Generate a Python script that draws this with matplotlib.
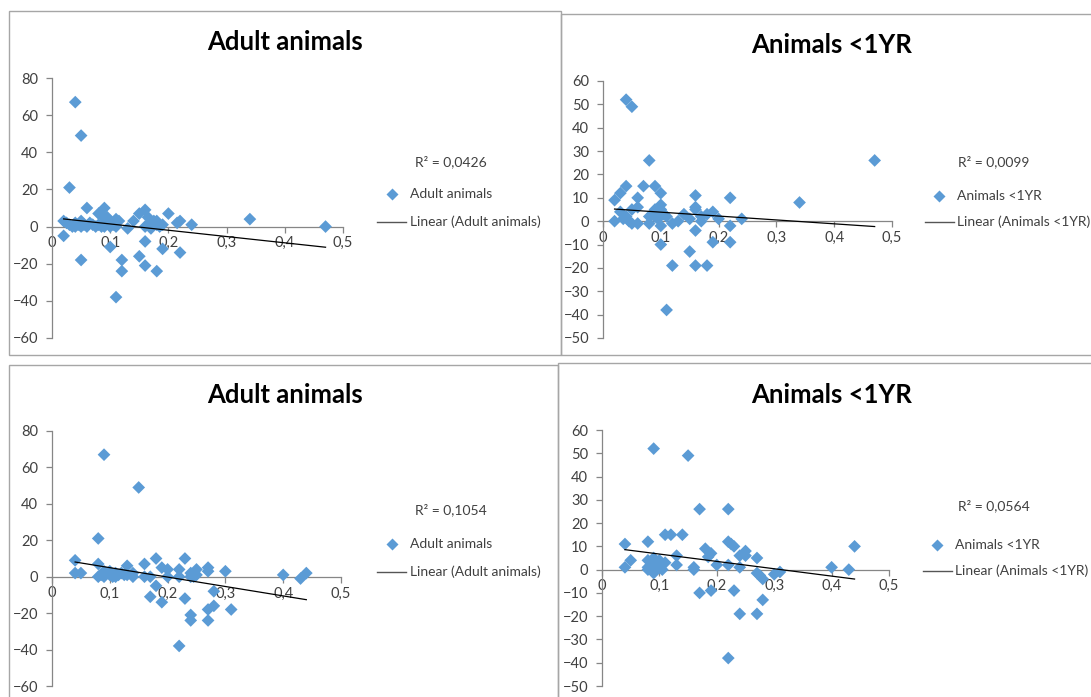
import numpy as np
import matplotlib
matplotlib.use("Agg")
import matplotlib.pyplot as plt
from matplotlib.patches import Rectangle
from matplotlib.lines import Line2D

plt.rcParams['font.family'] = ['Lato', 'DejaVu Sans']

# ---------------- data ----------------
adult_top_x = [0.04, 0.05, 0.03, 0.02, 0.02, 0.05, 0.06, 0.09, 0.08, 0.085, 0.095, 0.10, 0.12, 0.12,
               0.11, 0.14, 0.13, 0.15, 0.16, 0.165, 0.16, 0.15, 0.16, 0.18, 0.19, 0.20, 0.22, 0.22,
               0.24, 0.34, 0.47,
               0.025, 0.03, 0.035, 0.04, 0.04, 0.045, 0.05, 0.05, 0.055, 0.06, 0.065, 0.07, 0.075,
               0.08, 0.085, 0.09, 0.09, 0.10, 0.10, 0.105, 0.11, 0.11, 0.115, 0.17, 0.175, 0.18,
               0.185, 0.19, 0.16, 0.17, 0.18, 0.215]
adult_top_y = [67, 49, 21, 3, -5, -18, 10, 10, 7, 6, 5, -11, -18, -24,
               -38, 3, -1, 7, 9, 5, -8, -16, -21, -24, -12, 7, 3, -14,
               1, 4, 0,
               2, 1, 0, 0, 2, 1, 0, 3, 1, 0, 2, 1, 0,
               1, 0, 2, 0, 3, 0, 1, 4, 0, 3, 2, 3, 1,
               0, 1, 0, -1, 3, 2]

young_top_x = [0.04, 0.05, 0.08, 0.47, 0.34, 0.02, 0.03, 0.04, 0.07, 0.09, 0.10, 0.06, 0.16, 0.22,
               0.02, 0.03, 0.06, 0.05, 0.04, 0.05, 0.06, 0.09, 0.10, 0.10, 0.08, 0.08, 0.09, 0.10,
               0.10, 0.11, 0.12, 0.12, 0.11, 0.13, 0.14, 0.15, 0.15, 0.16, 0.16, 0.16, 0.16, 0.17,
               0.17, 0.18, 0.18, 0.19, 0.19, 0.20, 0.22, 0.22, 0.24, 0.035, 0.045, 0.085, 0.095,
               0.105]
young_top_y = [52, 49, 26, 26, 8, 9, 12, 15, 15, 15, 12, 10, 11, 10,
               0, 4, 6, 5, 2, -1, -1, 5, 5, 7, 2, -1, 2, -2,
               -10, -38, -19, -1, 2, 0, 3, 1, -13, 6, 5, -4, -19, 0,
               2, -19, 3, 4, -9, 1, -2, -9, 1, 1, 0, 3, 1,
               3]

adult_bot_x = [0.09, 0.15, 0.08, 0.04, 0.04, 0.05, 0.08, 0.08, 0.13, 0.16, 0.18, 0.23, 0.16, 0.17,
               0.17, 0.18, 0.19, 0.19, 0.20, 0.20, 0.22, 0.22, 0.22, 0.23, 0.24, 0.24, 0.24, 0.24,
               0.25, 0.25, 0.245, 0.27, 0.27, 0.27, 0.27, 0.28, 0.28, 0.30, 0.31, 0.40, 0.43, 0.44,
               0.09, 0.095, 0.10, 0.10, 0.105, 0.11, 0.11, 0.115, 0.12, 0.125, 0.13, 0.14, 0.14,
               0.085, 0.09]
adult_bot_y = [67, 49, 21, 9, 2, 2, 7, 0, 6, 7, 10, 10, 0, 0,
               -11, -5, -14, 5, 4, 0, 4, 0, -38, -12, -21, -24, 2, 0,
               4, 1, 0, 5, 3, -18, -24, -16, -8, 3, -18, 1, -1, 2,
               0, 2, 1, 3, 0, 2, 0, 1, 2, 1, 1, 0, 2,
               1, 3]

young_bot_x = [0.09, 0.15, 0.17, 0.22, 0.11, 0.12, 0.14, 0.04, 0.08, 0.22, 0.225, 0.23, 0.44, 0.05,
               0.04, 0.08, 0.08, 0.09, 0.09, 0.10, 0.10, 0.11, 0.095, 0.08, 0.13, 0.13, 0.16, 0.16,
               0.17, 0.18, 0.185, 0.19, 0.19, 0.20, 0.22, 0.22, 0.23, 0.24, 0.24, 0.24, 0.25, 0.25,
               0.27, 0.27, 0.27, 0.275, 0.28, 0.28, 0.30, 0.31, 0.40, 0.43, 0.085, 0.105, 0.09]
young_bot_y = [52, 49, 26, 26, 15, 15, 15, 11, 12, 12, 11, 10, 10, 4,
               1, 1, 4, 5, -1.5, 1, 4, 3, 2, 0, 6, 2, 0, 1,
               -10, 9, 5.5, 7, -9, 2, 2, -38, -9, 6, -19, 1, 8, 6,
               5, -19, -1.5, -2.5, -4, -13, -2, -1, 1, 0, 2, 0, 0]

titles = ["Adult animals", "Animals <1YR", "Adult animals", "Animals <1YR"]
r2_labels = ["R² = 0,0426", "R² = 0,0099", "R² = 0,1054", "R² = 0,0564"]
x_ticks = [0, 0.1, 0.2, 0.3, 0.4, 0.5]
y_ticks_adult = [-60, -40, -20, 0, 20, 40, 60, 80]
y_ticks_young = [-50, -40, -30, -20, -10, 0, 10, 20, 30, 40, 50, 60]

# ---------------- layout ----------------
W, H = 1091, 697
fig = plt.figure(figsize=(W / 100, H / 100), dpi=100)
fig.patch.set_facecolor("white")

def fx(px):
    return px / W

def fy(py):
    return 1 - py / H

def add_frame(x0, y0, x1, y1):
    fig.patches.append(Rectangle((fx(x0), fy(y1)), fx(x1) - fx(x0), fy(y0) - fy(y1),
                                 transform=fig.transFigure, fill=False,
                                 edgecolor="#a6a6a6", linewidth=1.0, zorder=0))

add_frame(9, 11, 561, 355)
add_frame(561, 14, 1095, 355)
add_frame(9, 365, 558, 702)
add_frame(558, 363, 1095, 702)

BLUE = "#5B9BD5"
GREY = "#868686"
TXT = "#404040"

panels = [
    (adult_top_x, adult_top_y, (52, 78, 343, 338), (-60, 80), y_ticks_adult, (285, 42),
     (162, 194, 222), (415, 392, 377, 410), "Adult animals"),
    (young_top_x, young_top_y, (603, 81, 892, 338), (-50, 60), y_ticks_young, (832, 45),
     (162, 196, 222), (958, 939, 925, 957), "Animals <1YR"),
    (adult_bot_x, adult_bot_y, (52, 431, 341, 686), (-60, 80), y_ticks_adult, (285, 395),
     (510, 544, 572), (415, 392, 377, 410), "Adult animals"),
    (young_bot_x, young_bot_y, (602, 430, 889, 686), (-50, 60), y_ticks_young, (832, 395),
     (506, 545, 571), (958, 937, 923, 955), "Animals <1YR"),
]

for i, (xs, ys, box, ylim, yt, tpos, ly, lx, name) in enumerate(panels):
    l, t, r, b = box
    ax = fig.add_axes([fx(l), fy(b), fx(r) - fx(l), fy(t) - fy(b)])
    ax.set_xlim(0, 0.5)
    ax.set_ylim(*ylim)
    ax.set_facecolor("none")
    ax.spines['top'].set_visible(False)
    ax.spines['right'].set_visible(False)
    ax.spines['bottom'].set_position(('data', 0))
    for s in ('left', 'bottom'):
        ax.spines[s].set_color(GREY)
        ax.spines[s].set_linewidth(0.9)
    ax.set_xticks(x_ticks)
    ax.set_xticklabels([("%g" % v).replace(".", ",") for v in x_ticks])
    ax.set_yticks(yt)
    ax.tick_params(axis='both', direction='out', length=4, width=0.9, color=GREY,
                   labelsize=10.5, labelcolor=TXT)
    ax.tick_params(axis='y', pad=6)
    ax.tick_params(axis='x', pad=3)

    xa = np.array(xs, dtype=float)
    ya = np.array(ys, dtype=float)
    ax.scatter(xa, ya, marker='D', s=42, color=BLUE, edgecolors='none', zorder=3,
               clip_on=False)
    k, c = np.polyfit(xa, ya, 1)
    xx = np.array([xa.min(), xa.max()])
    ax.plot(xx, k * xx + c, color="black", linewidth=0.9, zorder=4, clip_on=False)

    fig.text(fx(tpos[0]), fy(tpos[1]), titles[i], ha='center', va='center',
             fontsize=18.5, fontweight='bold', color='black')

    # legend
    fig.text(fx(lx[0]), fy(ly[0]), r2_labels[i], ha='left', va='center', fontsize=10, color=TXT)
    fig.add_artist(Line2D([fx(lx[1])], [fy(ly[1])], marker='D', markersize=6,
                          color=BLUE, markeredgecolor='none', linestyle='none',
                          transform=fig.transFigure))
    fig.text(fx(lx[3]), fy(ly[1]), name, ha='left', va='center', fontsize=10, color=TXT)
    fig.add_artist(Line2D([fx(lx[2]), fx(lx[2] + 29)], [fy(ly[2]), fy(ly[2])],
                          color="#555555", linewidth=1.0, transform=fig.transFigure))
    fig.text(fx(lx[3]), fy(ly[2]), "Linear (" + name + ")", ha='left', va='center',
             fontsize=10, color=TXT)

fig.savefig("out.png", dpi=100, facecolor="white")
